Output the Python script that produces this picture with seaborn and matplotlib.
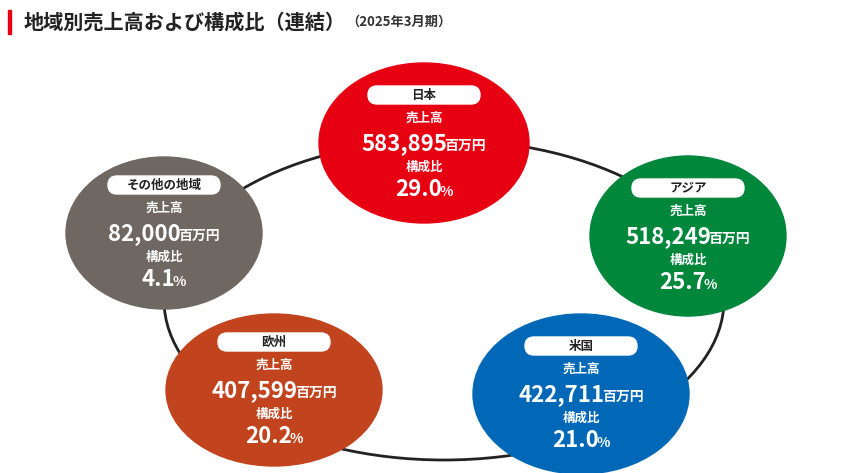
import matplotlib
matplotlib.use("Agg")
import matplotlib.pyplot as plt
from matplotlib.patches import Ellipse, FancyBboxPatch
import seaborn as sns

# =========================================================
# DATA
# =========================================================

regions = ["日本", "アジア", "米国", "欧州", "その他の地域"]
sales = [583895, 518249, 422711, 407599, 82000]
shares = [29.0, 25.7, 21.0, 20.2, 4.1]
colors = ["#E60012", "#00873C", "#0068B7", "#C1441E", "#6E6762"]

# layout (pixel space)
centers = [(424, 143), (688, 236), (581, 394), (274, 390), (164, 233)]
sizes = [(210, 160), (196, 160), (216, 160), (216, 152), (196, 152)]

sns.set_theme(style="white")
plt.rcParams["font.family"] = ["Noto Sans CJK JP", "DejaVu Sans"]

fig = plt.figure(figsize=(8.5, 4.73), dpi=100)
ax = fig.add_axes([0, 0, 1, 1])
ax.set_xlim(0, 850)
ax.set_ylim(473, 0)
ax.axis("off")

# title
ax.add_patch(plt.Rectangle((8, 10), 3, 24, color="#E60012"))
t = ax.text(24, 22, "地域別売上高および構成比（連結）", fontsize=14.5,
            fontweight="bold", va="center", color="#222222")
ax.annotate("（2025年3月期）", xy=(1, 0.5), xycoords=t, va="center",
            fontsize=9.5, fontweight="bold", color="#333333")

# connecting ring
ax.add_patch(Ellipse((444, 300), 560, 320, fill=False, lw=2,
                     color="#222222", zorder=1))

renderer = fig.canvas.get_renderer()


def mixed(cx, y, main, suffix, s1, s2):
    t1 = ax.text(cx, y, main, fontsize=s1, fontweight="bold", color="white",
                 ha="left", va="baseline", zorder=5)
    t2 = ax.text(cx, y, suffix, fontsize=s2, fontweight="bold",
                 color="white", ha="left", va="baseline", zorder=5)
    w1 = t1.get_window_extent(renderer).width - 3
    w2 = t2.get_window_extent(renderer).width
    x0 = cx - (w1 + w2) / 2
    t1.set_x(x0)
    t2.set_x(x0 + w1)


for name, val, pct, col, (cx, cy), (w, h) in zip(
        regions, sales, shares, colors, centers, sizes):
    ax.add_patch(Ellipse((cx, cy), w, h, color=col, zorder=2))
    pw = 112
    ax.add_patch(FancyBboxPatch((cx - pw / 2, cy - 57), pw, 18,
                                boxstyle="round,pad=0,rounding_size=9",
                                color="white", zorder=3))
    ax.text(cx, cy - 48, name, fontsize=9, fontweight="bold",
            ha="center", va="center", color="#222222", zorder=4)
    ax.text(cx, cy - 25, "売上高", fontsize=9, fontweight="bold",
            ha="center", va="center", color="white", zorder=4)
    mixed(cx, cy + 7, f"{val:,}", "百万円", 16, 10)
    ax.text(cx, cy + 24, "構成比", fontsize=9, fontweight="bold",
            ha="center", va="center", color="white", zorder=4)
    mixed(cx, cy + 53, f"{pct:.1f}", "%", 16, 10)

fig.savefig("out.png", dpi=100)
